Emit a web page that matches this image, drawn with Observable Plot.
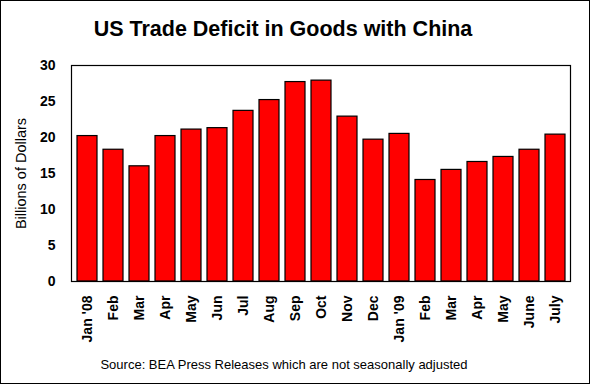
<!DOCTYPE html>
<html>
<head>
<meta charset="utf-8">
<script src="https://cdn.jsdelivr.net/npm/d3@7"></script>
<script src="https://cdn.jsdelivr.net/npm/@observablehq/plot@0.6"></script>
<style>
  html, body { margin: 0; padding: 0; background: #fff; }
  #wrap { position: relative; width: 592px; height: 388px; font-family: Arial, "Liberation Sans", sans-serif; }
  #border { position: absolute; left: 0; top: 0; width: 590px; height: 384px; border: 1px solid #000; box-sizing: border-box; }
  #chart { position: absolute; left: 0; top: 0; }
  #title { position: absolute; left: 0; width: 566px; top: 18px; text-align: center; font-weight: bold; font-size: 21.5px; line-height: 22px; color: #000; white-space: nowrap; }
  #caption { position: absolute; left: 0; width: 568px; top: 358px; text-align: center; font-size: 13px; line-height: 13px; color: #000; white-space: nowrap; }
</style>
</head>
<body>
<div id="wrap">
  <div id="border"></div>
  <div id="chart"></div>
  <div id="title">US Trade Deficit in Goods with China</div>
  <div id="caption">Source: BEA Press Releases which are not seasonally adjusted</div>
</div>
<script>
const months = ["Jan '08", "Feb", "Mar", "Apr", "May", "Jun", "Jul", "Aug", "Sep", "Oct", "Nov", "Dec",
                "Jan '09", "Feb", "Mar", "Apr", "May", "June", "July"];
const deficit = [20.2, 18.3, 16.0, 20.2, 21.1, 21.3, 23.7, 25.2, 27.7, 27.9, 22.9, 19.7,
                 20.5, 14.1, 15.5, 16.6, 17.3, 18.3, 20.4];
const yTicks = [0, 5, 10, 15, 20, 25, 30];
const yLabel = "Billions of Dollars";

const rows = months.map((m, i) => ({i, value: deficit[i]}));

const chart = Plot.plot({
  width: 592,
  height: 388,
  marginLeft: 71,
  marginRight: 22,
  marginTop: 65,
  marginBottom: 107,
  style: {fontFamily: "Arial, 'Liberation Sans', sans-serif", fontSize: "14px", background: "transparent", color: "#000", overflow: "visible"},
  x: {type: "band", domain: d3.range(months.length), paddingInner: 0.24, paddingOuter: 0.12},
  y: {domain: [0, 30]},
  marks: [
    Plot.barY(rows, {x: "i", y: "value", fill: "#ff0000", stroke: "#000", strokeWidth: 1.2}),
    Plot.frame({stroke: "#000", strokeWidth: 1.2}),
    Plot.axisY({ticks: yTicks, tickSize: 0, tickPadding: 16, fontWeight: "bold", fontSize: 14, label: null}),
    Plot.axisX({tickFormat: i => months[i], tickRotate: -90, tickSize: 0, tickPadding: 14, fontWeight: "bold", fontSize: 14, label: null}),
    Plot.text([yLabel], {frameAnchor: "left", dx: -50, rotate: -90, textAnchor: "middle", fontSize: 14.5, fill: "#000"})
  ]
});
document.getElementById("chart").appendChild(chart);
</script>
</body>
</html>
